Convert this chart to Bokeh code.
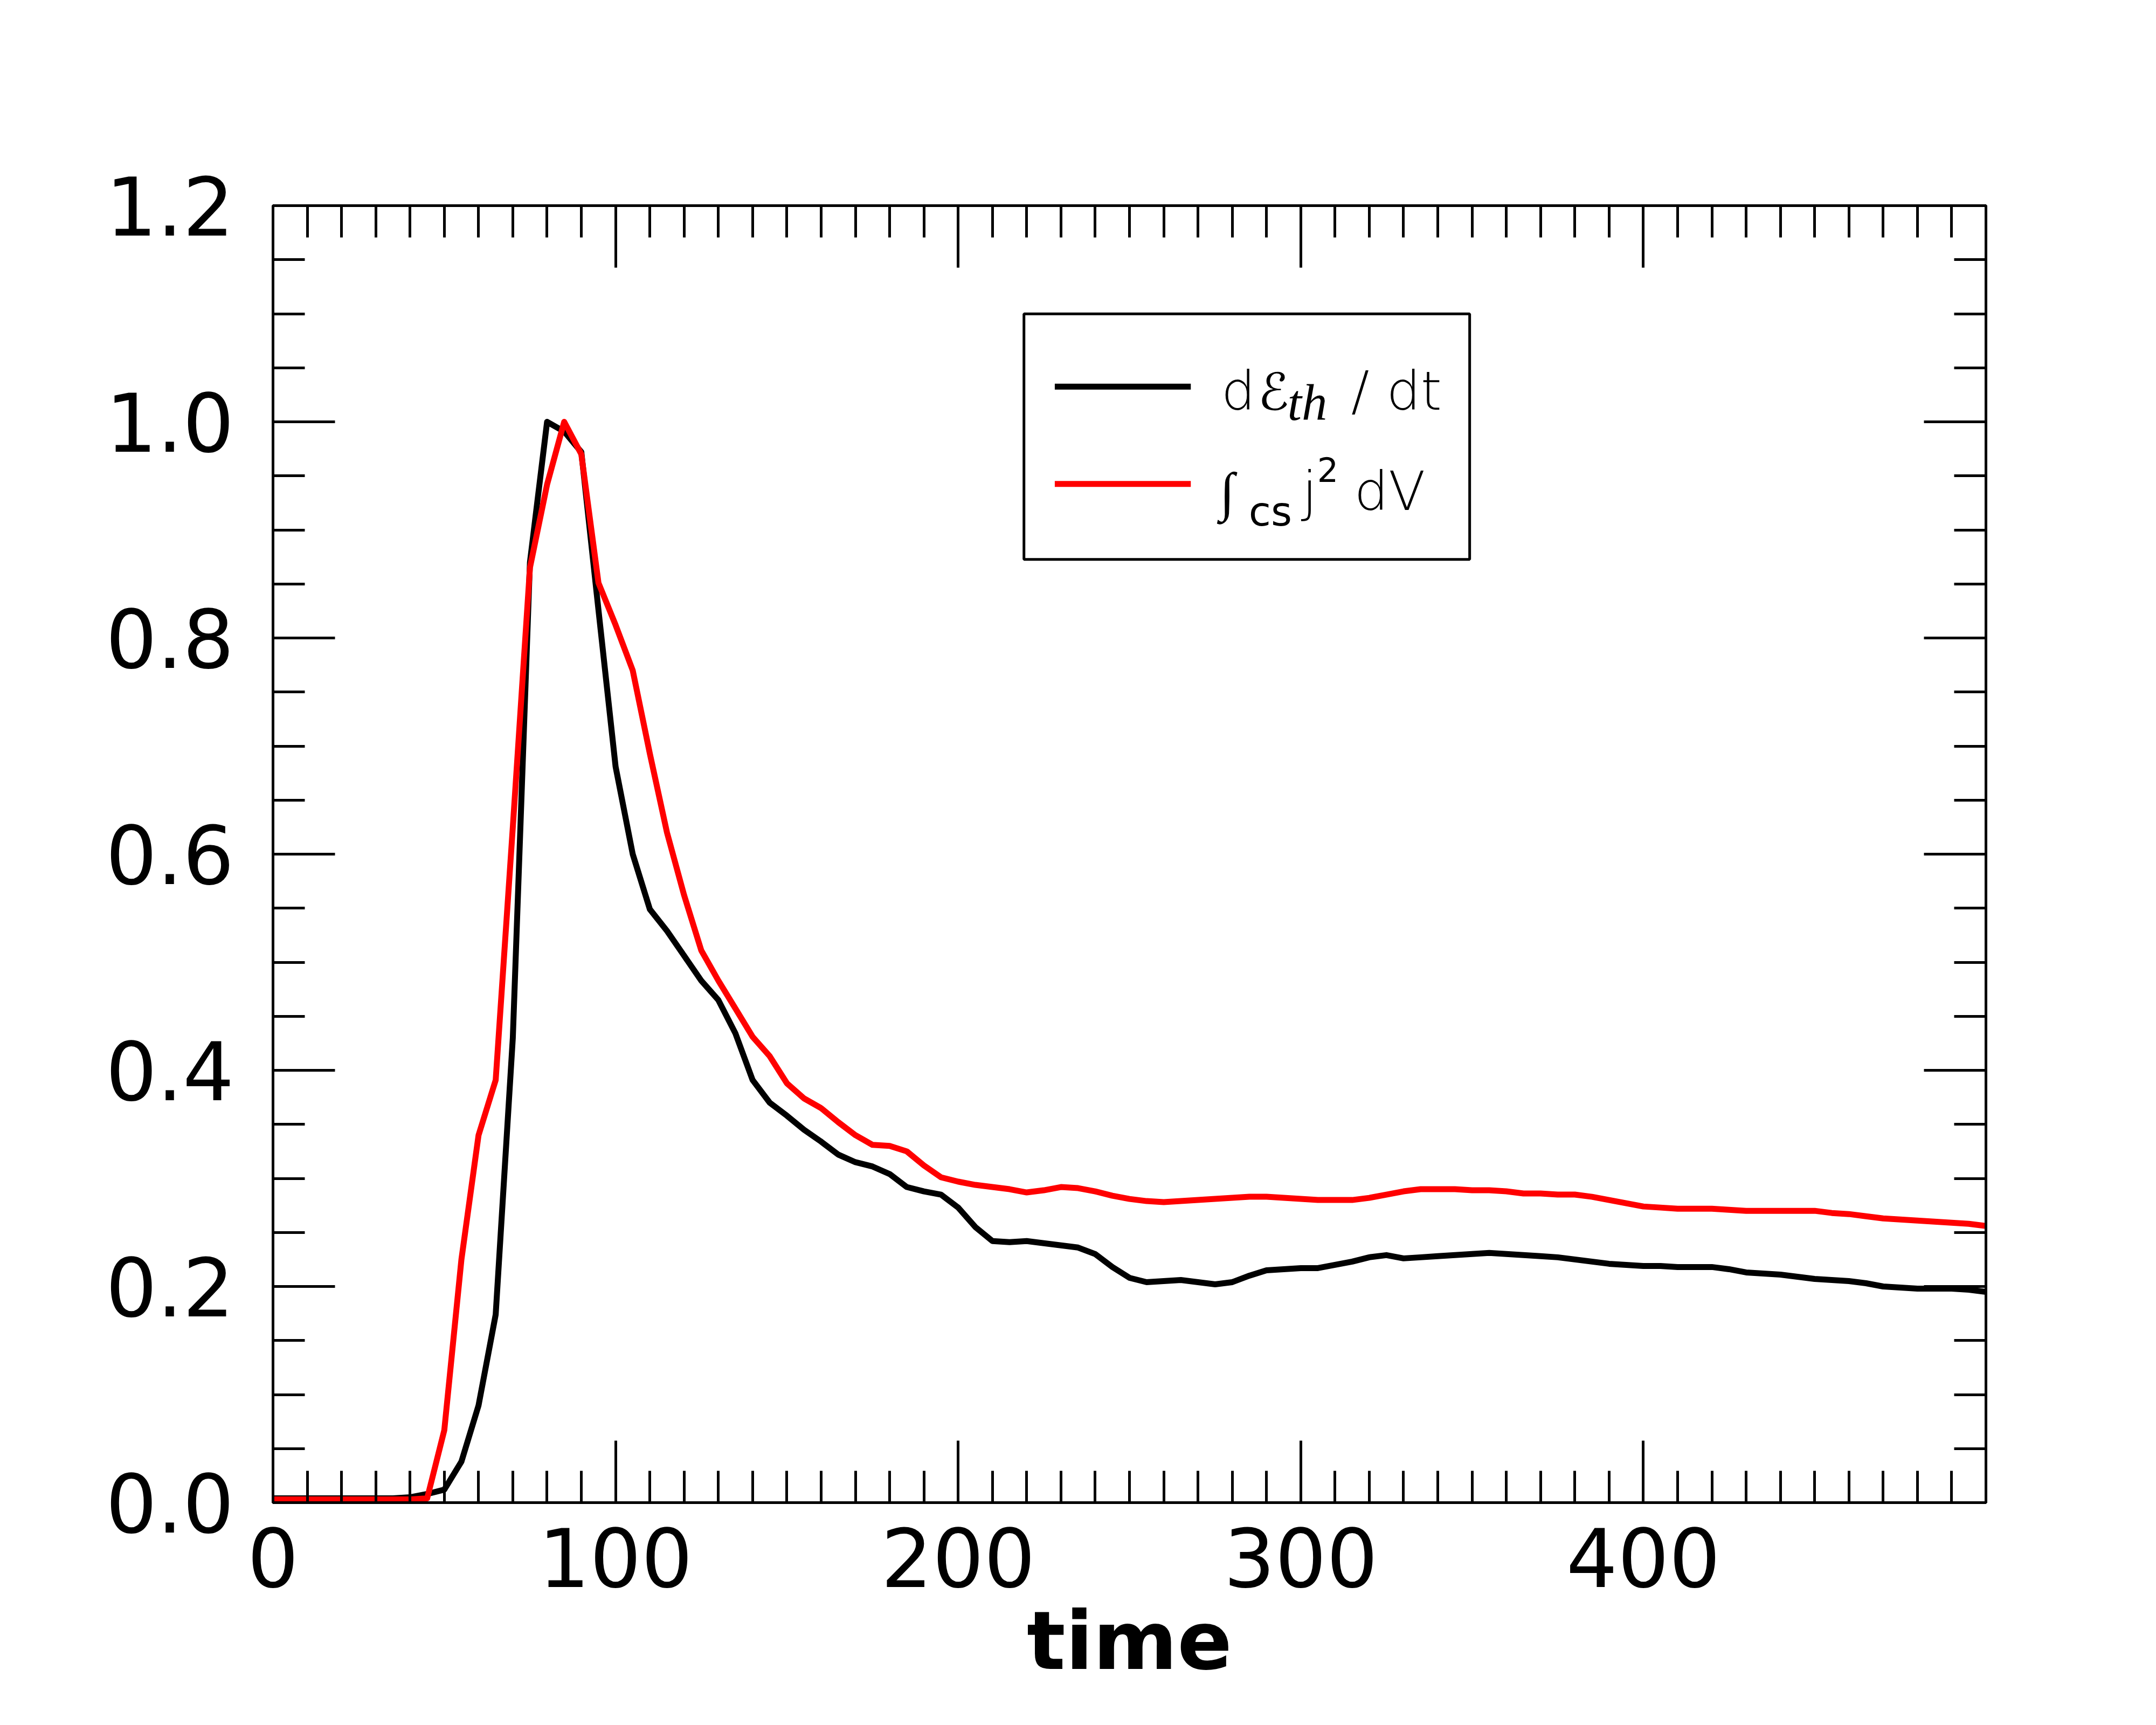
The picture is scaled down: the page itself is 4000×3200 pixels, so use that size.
from bokeh.plotting import figure
from bokeh.models import (LinearAxis, FixedTicker, PrintfTickFormatter, CustomJSTickFormatter,
                          Range1d, BoxAnnotation, Label)
from bokeh.embed import file_html
from bokeh.resources import INLINE

# ---------------- data ----------------
time = [0, 5, 10, 15, 20, 25, 30, 35, 40, 45, 50, 55, 60, 65, 70, 75, 80, 85, 90, 95,
        100, 105, 110, 115, 120, 125, 130, 135, 140, 145, 150, 155, 160, 165, 170, 175, 180, 185, 190, 195,
        200, 205, 210, 215, 220, 225, 230, 235, 240, 245, 250, 255, 260, 265, 270, 275, 280, 285, 290, 295,
        300, 305, 310, 315, 320, 325, 330, 335, 340, 345, 350, 355, 360, 365, 370, 375, 380, 385, 390, 395,
        400, 405, 410, 415, 420, 425, 430, 435, 440, 445, 450, 455, 460, 465, 470, 475, 480, 485, 490, 495,
        500]

heating_rate = [0.004, 0.004, 0.004, 0.004, 0.004, 0.004, 0.004, 0.004, 0.005, 0.008,
                0.012, 0.038, 0.090, 0.174, 0.430, 0.870, 1.000, 0.991, 0.972, 0.826,
                0.681, 0.600, 0.549, 0.529, 0.506, 0.483, 0.465, 0.434, 0.391, 0.370,
                0.358, 0.345, 0.334, 0.322, 0.315, 0.311, 0.304, 0.292, 0.288, 0.285,
                0.273, 0.255, 0.242, 0.241, 0.242, 0.240, 0.238, 0.236, 0.230, 0.218,
                0.208, 0.204, 0.205, 0.206, 0.204, 0.202, 0.204, 0.210, 0.215, 0.216,
                0.217, 0.217, 0.220, 0.223, 0.227, 0.229, 0.226, 0.227, 0.228, 0.229,
                0.230, 0.231, 0.230, 0.229, 0.228, 0.227, 0.225, 0.223, 0.221, 0.220,
                0.219, 0.219, 0.218, 0.218, 0.218, 0.216, 0.213, 0.212, 0.211, 0.209,
                0.207, 0.206, 0.205, 0.203, 0.200, 0.199, 0.198, 0.198, 0.198, 0.197,
                0.195]

joule_integral = [0.003, 0.003, 0.003, 0.003, 0.003, 0.003, 0.003, 0.003, 0.003, 0.004,
                  0.067, 0.225, 0.340, 0.391, 0.625, 0.865, 0.942, 1.000, 0.970, 0.851,
                  0.812, 0.770, 0.693, 0.620, 0.562, 0.511, 0.483, 0.457, 0.431, 0.413,
                  0.388, 0.374, 0.365, 0.352, 0.340, 0.331, 0.330, 0.325, 0.312, 0.301,
                  0.297, 0.294, 0.292, 0.290, 0.287, 0.289, 0.292, 0.291, 0.288, 0.284,
                  0.281, 0.279, 0.278, 0.279, 0.280, 0.281, 0.282, 0.283, 0.283, 0.282,
                  0.281, 0.280, 0.280, 0.280, 0.282, 0.285, 0.288, 0.290, 0.290, 0.290,
                  0.289, 0.289, 0.288, 0.286, 0.286, 0.285, 0.285, 0.283, 0.280, 0.277,
                  0.274, 0.273, 0.272, 0.272, 0.272, 0.271, 0.270, 0.270, 0.270, 0.270,
                  0.270, 0.268, 0.267, 0.265, 0.263, 0.262, 0.261, 0.260, 0.259, 0.258,
                  0.256]

x_major_ticks = [0, 100, 200, 300, 400]
x_minor_ticks = [0, 10, 20, 30, 40, 50, 60, 70, 80, 90, 100, 110, 120, 130, 140, 150, 160, 170, 180, 190,
                 200, 210, 220, 230, 240, 250, 260, 270, 280, 290, 300, 310, 320, 330, 340, 350, 360, 370,
                 380, 390, 400, 410, 420, 430, 440, 450, 460, 470, 480, 490, 500]
y_major_ticks = [0.0, 0.2, 0.4, 0.6, 0.8, 1.0, 1.2]
y_minor_ticks = [0.0, 0.05, 0.1, 0.15, 0.2, 0.25, 0.3, 0.35, 0.4, 0.45, 0.5, 0.55, 0.6, 0.65, 0.7,
                 0.75, 0.8, 0.85, 0.9, 0.95, 1.0, 1.05, 1.1, 1.15, 1.2]

x_label = "time"

# ---------------- figure ----------------
FONT = "DejaVu Sans"
FRAME_H = 2406
Y_SPAN = 1.2
p = figure(frame_width=3178, frame_height=FRAME_H,
           x_range=Range1d(0, 500), y_range=Range1d(0, Y_SPAN),
           x_axis_type=None, y_axis_type=None,
           output_backend="svg", toolbar_location=None,
           min_border_left=506, min_border_top=381, min_border_right=270, min_border_bottom=370,
           background_fill_color="white", border_fill_color="white")
p.outline_line_color = "black"
p.outline_line_width = 5


def style_axis(ax, show_labels):
    ax.axis_line_color = "black"
    ax.axis_line_width = 5
    ax.major_tick_in = 115
    ax.major_tick_out = 0
    ax.minor_tick_in = 59
    ax.minor_tick_out = 0
    ax.major_tick_line_width = 5
    ax.minor_tick_line_width = 5
    ax.major_tick_line_color = "black"
    ax.minor_tick_line_color = "black"
    ax.major_label_text_font = FONT
    ax.major_label_text_font_size = "150px"
    ax.major_label_text_color = "black"
    if not show_labels:
        ax.formatter = CustomJSTickFormatter(code="return ''")
        ax.major_label_text_font_size = "0px"


xt = FixedTicker(ticks=x_major_ticks, minor_ticks=x_minor_ticks)
yt = FixedTicker(ticks=y_major_ticks, minor_ticks=y_minor_ticks)

xb = LinearAxis(ticker=xt, formatter=PrintfTickFormatter(format="%d"))
style_axis(xb, True)
xb.major_label_standoff = 46
xb.axis_label = x_label
xb.axis_label_text_font = FONT
xb.axis_label_text_font_style = "bold"
xb.axis_label_text_font_size = "150px"
xb.axis_label_text_color = "black"
xb.axis_label_standoff = 10
p.add_layout(xb, "below")

yl = LinearAxis(ticker=yt, formatter=PrintfTickFormatter(format="%.1f"))
style_axis(yl, True)
yl.major_label_standoff = 72
p.add_layout(yl, "left")

xtop = LinearAxis(ticker=FixedTicker(ticks=x_major_ticks, minor_ticks=x_minor_ticks))
style_axis(xtop, False)
p.add_layout(xtop, "above")

yr = LinearAxis(ticker=FixedTicker(ticks=y_major_ticks, minor_ticks=y_minor_ticks))
style_axis(yr, False)
p.add_layout(yr, "right")

# ---------------- data lines ----------------
p.line(time, heating_rate, line_color="black", line_width=11, line_join="round")
p.line(time, joule_integral, line_color="#ff0000", line_width=11, line_join="round")

# ---------------- legend (hand-built for the math labels) ----------------
box = BoxAnnotation(left=219.2, right=349.3, bottom=0.8727, top=1.0999,
                    fill_color="white", fill_alpha=1.0, line_color="black", line_alpha=1.0,
                    line_width=5, level="underlay")
p.add_layout(box)
p.segment(x0=[228.2, 228.2], y0=[1.0326, 0.9425], x1=[267.9, 267.9], y1=[1.0326, 0.9425],
          line_color=["black", "#ff0000"], line_width=11)

PX_TO_Y = Y_SPAN / FRAME_H


def add_text(x, y, text, size, font=FONT, style="normal", align="left"):
    # small upward correction for where the browser puts the alphabetic baseline
    y_adj = y + 0.36 * size * PX_TO_Y
    p.add_layout(Label(x=x, y=y_adj, text=text, text_font=font, text_font_size=f"{size}px",
                       text_font_style=style, text_color="black",
                       text_align=align, text_baseline="alphabetic"))


# row 1: d E_th / dt
add_text(276.8, 1.0107, "d", 100)
add_text(287.5, 1.0107, "\u2130", 95)
add_text(296.1, 1.0008, "th", 95, font="Liberation Serif", style="italic")
add_text(314.7, 1.0107, "/ dt", 100)
# row 2: int_cs j^2 dV
add_text(276.4, 0.9176, "\u222b", 100)
add_text(284.8, 0.9036, "cs", 75)
add_text(300.4, 0.9176, "j", 100)
add_text(304.8, 0.9449, "2", 62)
add_text(315.6, 0.9176, "dV", 100)

open("out.html", "w").write(file_html(p, INLINE))
